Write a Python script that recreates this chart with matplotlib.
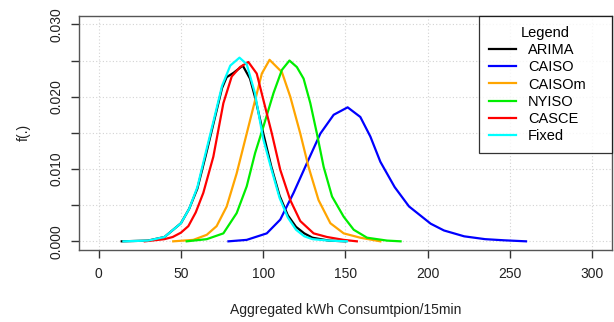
import matplotlib
matplotlib.use("Agg")
import matplotlib.pyplot as plt

plt.rcParams["font.family"] = ["Liberation Sans", "DejaVu Sans"]

# density curves (x = kWh per 15 min, y = density)
arima_x = [14, 30, 40, 50, 55, 60, 65, 70, 75, 77.8, 82, 87.6, 92, 95, 100, 105, 110, 115, 120, 125, 130, 140, 150]
arima_y = [0, 0.0001, 0.0006, 0.0025, 0.0045, 0.0073, 0.0118, 0.0165, 0.0212, 0.0227, 0.0233, 0.0243, 0.0225,
           0.0200, 0.0150, 0.0103, 0.0063, 0.0036, 0.0020, 0.0011, 0.0005, 0.0001, 0]

caiso_x = [78.9, 90, 102.2, 110.4, 118.5, 126.6, 134.8, 142.9, 151.4, 159.1, 165.2, 171.3, 180, 188.7, 201.9,
           210, 222.3, 235, 246.7, 259.9]
caiso_y = [0, 0.0002, 0.0011, 0.0030, 0.0067, 0.0108, 0.0149, 0.0175, 0.01853, 0.0172, 0.0145, 0.0110, 0.0075,
           0.00483, 0.00244, 0.0015, 0.00069, 0.0003, 0.00014, 0]

caisom_x = [45.3, 57.5, 65.7, 71.7, 77.8, 83.9, 90, 95.1, 99.2, 103.9, 108.3, 111.4, 116.5, 122.6, 127.6, 133.7,
            140.9, 149, 159.1, 171.3]
caisom_y = [0, 0.0002, 0.0009, 0.0021, 0.0048, 0.0094, 0.0149, 0.0195, 0.0232, 0.0251, 0.0241, 0.0234, 0.0200,
            0.0149, 0.0103, 0.0057, 0.0025, 0.0011, 0.0005, 0]

nyiso_x = [53.5, 65.7, 75.8, 83.9, 90, 95.1, 100.2, 106.3, 111.4, 116, 120.5, 124.6, 128.7, 132.7, 136.8, 141.9,
           149, 155.1, 163.2, 175.4, 183.6]
nyiso_y = [0, 0.0003, 0.0011, 0.0039, 0.0076, 0.0122, 0.0159, 0.0205, 0.0237, 0.0250, 0.0241, 0.0225, 0.0191,
           0.0149, 0.0103, 0.0062, 0.0034, 0.0016, 0.0005, 0.0001, 0]

casce_x = [28, 40, 45, 50, 54.5, 59, 63.6, 69.7, 75.8, 80.9, 86, 91, 96.1, 100.2, 105.3, 110.4, 116.5, 122.6,
           130.7, 138.8, 149, 157]
casce_y = [0, 0.0003, 0.0006, 0.0012, 0.0021, 0.0040, 0.0067, 0.0117, 0.0191, 0.0228, 0.0241, 0.0248, 0.0232,
           0.0195, 0.0149, 0.0099, 0.0057, 0.0028, 0.0011, 0.0006, 0.0002, 0]

fixed_x = [15, 30, 40, 50, 55, 60, 65, 70, 75, 80, 85.6, 90, 95, 100, 105, 110, 115, 120, 125, 130, 140, 151]
fixed_y = [0, 0.0001, 0.0006, 0.0025, 0.0045, 0.0075, 0.0122, 0.0168, 0.0215, 0.0243, 0.0254, 0.0245, 0.0205,
           0.0142, 0.0100, 0.0060, 0.0033, 0.0016, 0.0007, 0.0003, 0.0001, 0]

series = [("ARIMA", arima_x, arima_y, "black"),
          ("CAISO", caiso_x, caiso_y, "blue"),
          ("CAISOm", caisom_x, caisom_y, "orange"),
          ("NYISO", nyiso_x, nyiso_y, "#00ee00"),
          ("CASCE", casce_x, casce_y, "red"),
          ("Fixed", fixed_x, fixed_y, "cyan")]

xticks = [0, 50, 100, 150, 200, 250, 300]
yticks = [0, 0.005, 0.010, 0.015, 0.020, 0.025, 0.030]
ylabels = ["0.000", "", "0.010", "", "0.020", "", "0.030"]

fig = plt.figure(figsize=(6.14, 3.22), dpi=100)
ax = fig.add_axes([0.1287, 0.2236, 0.8675, 0.7276])

ax.grid(True, color="#d3d3d3", ls=(0, (1, 2)), lw=0.8)
ax.set_axisbelow(True)
for name, xs, ys, col in series:
    ax.plot(xs, ys, color=col, lw=1.6, label=name)

ax.set_xlim(-12, 312)
ax.set_ylim(-0.0012, 0.0312)
ax.set_xticks(xticks)
ax.set_yticks(yticks)
ax.set_yticklabels(ylabels, rotation=90, va="center")
for s in ax.spines.values():
    s.set_color("#555555")
    s.set_linewidth(1.0)
ax.tick_params(colors="#333333", labelcolor="#222222", labelsize=10, length=6, width=1.0, pad=6)
ax.tick_params(axis="y", pad=5)

ax.set_xlabel("Aggregated kWh Consumtpion/15min", fontsize=10, color="#222222", labelpad=16)
ax.set_ylabel("f(.)", fontsize=10, color="#222222", labelpad=14)

leg = ax.legend(title="Legend", loc="upper right", bbox_to_anchor=(0.751, 0.5, 0.249, 0.5), mode="expand",
                fontsize=10.5, title_fontsize=10.5, frameon=True,
                fancybox=False, edgecolor="black", borderaxespad=0, handlelength=1.85,
                labelspacing=0.22, borderpad=0.7, handletextpad=0.8)
leg.get_frame().set_linewidth(0.9)

fig.savefig("out.png", dpi=100)
